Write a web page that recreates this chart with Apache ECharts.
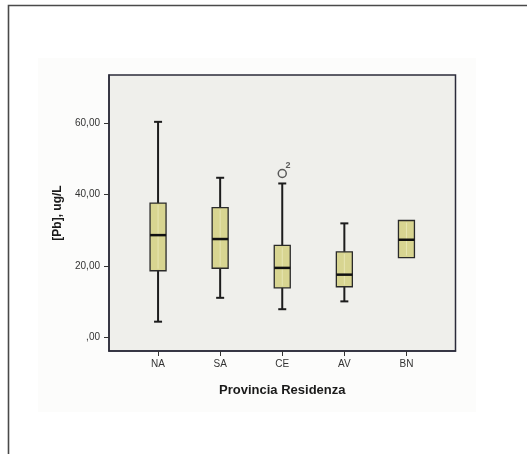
<!DOCTYPE html>
<html>
<head>
<meta charset="utf-8">
<script src="https://cdn.jsdelivr.net/npm/echarts@6/dist/echarts.min.js"></script>
<style>
  html, body { margin: 0; padding: 0; background: #ffffff; }
  #chart { width: 527px; height: 454px; }
</style>
</head>
<body>
<div id="chart"></div>
<script>
// Province codes on the horizontal axis
const provinces = ['NA', 'SA', 'CE', 'AV', 'BN'];
// Box statistics per province: lower whisker, Q1, median, Q3, upper whisker
const lowerWhisker = [4.3, 11.0, 7.8, 10.0, 22.3];
const quartile1    = [18.6, 19.3, 13.8, 14.1, 22.3];
const medians      = [28.6, 27.5, 19.4, 17.5, 27.3];
const quartile3    = [37.6, 36.3, 25.7, 23.9, 32.7];
const upperWhisker = [60.4, 44.7, 43.1, 31.9, 32.7];
// Outliers: province index, value, case label
const outlierProvince = [2];
const outlierValue = [45.9];
const outlierCase = ['2'];
// Y tick values and their labels
const yTicks = [0, 20, 40, 60];
const yTickLabels = [',00', '20,00', '40,00', '60,00'];

const boxData = provinces.map((p, i) => [i + 1, lowerWhisker[i], quartile1[i], medians[i], quartile3[i], upperWhisker[i]]);
const outlierData = outlierProvince.map((p, i) => ({ value: [p + 1, outlierValue[i]], caseId: outlierCase[i] }));

const FONT = '"Liberation Sans", Arial, sans-serif';

function renderBox(params, api) {
  const x = api.value(0);
  const pMin = api.coord([x, api.value(1)]);
  const pQ1 = api.coord([x, api.value(2)]);
  const pMed = api.coord([x, api.value(3)]);
  const pQ3 = api.coord([x, api.value(4)]);
  const pMax = api.coord([x, api.value(5)]);
  const half = 8, cap = 4;
  const cx = pMed[0];
  const children = [];
  const whiskerStyle = { stroke: '#1c1c1c', lineWidth: 2 };
  if (pMax[1] < pQ3[1] - 0.5) {
    children.push({ type: 'line', shape: { x1: cx, y1: pMax[1], x2: cx, y2: pQ3[1] }, style: whiskerStyle });
    children.push({ type: 'line', shape: { x1: cx - cap, y1: pMax[1], x2: cx + cap, y2: pMax[1] }, style: whiskerStyle });
  }
  if (pMin[1] > pQ1[1] + 0.5) {
    children.push({ type: 'line', shape: { x1: cx, y1: pQ1[1], x2: cx, y2: pMin[1] }, style: whiskerStyle });
    children.push({ type: 'line', shape: { x1: cx - cap, y1: pMin[1], x2: cx + cap, y2: pMin[1] }, style: whiskerStyle });
  }
  children.push({
    type: 'rect',
    shape: { x: cx - half, y: pQ3[1], width: half * 2, height: pQ1[1] - pQ3[1] },
    style: { fill: '#d8d591', stroke: '#2a2a2a', lineWidth: 1.3 }
  });
  // faint inner hatch of the fill
  children.push({
    type: 'line',
    shape: { x1: cx, y1: pQ3[1] + 2, x2: cx, y2: pQ1[1] - 2 },
    style: { stroke: 'rgba(255,255,230,0.4)', lineWidth: 1 }
  });
  children.push({
    type: 'line',
    shape: { x1: cx - half, y1: pMed[1], x2: cx + half, y2: pMed[1] },
    style: { stroke: '#111111', lineWidth: 2.5 }
  });
  return { type: 'group', children };
}

const chart = echarts.init(document.getElementById('chart'), null, { renderer: 'canvas' });
chart.setOption({
  animation: false,
  backgroundColor: '#ffffff',
  graphic: [
    { type: 'rect', silent: true, z: -10, shape: { x: 38, y: 58, width: 438, height: 354 }, style: { fill: '#fcfcfb' } },
    { type: 'polyline', silent: true, z: 100, shape: { points: [[8.5, 454], [8.5, 5.5], [527, 5.5]] }, style: { stroke: '#4a4a4a', lineWidth: 1.6, fill: null } }
  ],
  grid: {
    left: 109, top: 75, right: 71.5, bottom: 103,
    show: true, backgroundColor: '#efefeb', borderColor: '#2b2b3a', borderWidth: 1.5
  },
  xAxis: {
    type: 'value',
    min: 0.21, max: 5.79,
    splitLine: { show: false },
    axisLine: { show: true, onZero: false, lineStyle: { color: '#2b2b3a', width: 1.5 } },
    axisTick: { show: true, length: 5, customValues: [1, 2, 3, 4, 5], lineStyle: { color: '#333', width: 1 } },
    axisLabel: {
      customValues: [1, 2, 3, 4, 5],
      formatter: v => provinces[Math.round(v) - 1] || '',
      color: '#333', fontFamily: FONT, fontSize: 10, margin: 8
    },
    name: 'Provincia Residenza',
    nameLocation: 'middle',
    nameGap: 33,
    nameTextStyle: { fontFamily: FONT, fontSize: 13, fontWeight: 'bold', color: '#1a1a1a' }
  },
  yAxis: {
    type: 'value',
    min: -3.93, max: 73.55,
    splitLine: { show: false },
    axisLine: { show: true, onZero: false, lineStyle: { color: '#2b2b3a', width: 1.5 } },
    axisTick: { show: true, length: 5, customValues: yTicks, lineStyle: { color: '#333', width: 1 } },
    axisLabel: {
      customValues: yTicks,
      formatter: v => yTickLabels[yTicks.indexOf(Math.round(v))] || '',
      color: '#333', fontFamily: FONT, fontSize: 10, margin: 9
    },
    name: '[Pb], ug/L',
    nameLocation: 'middle',
    nameGap: 39,
    nameRotate: 90,
    nameTextStyle: { fontFamily: FONT, fontSize: 12, fontWeight: 'bold', color: '#1a1a1a' }
  },
  series: [
    {
      type: 'custom',
      renderItem: renderBox,
      data: boxData,
      encode: { x: 0, y: [1, 2, 3, 4, 5] },
      z: 5
    },
    {
      type: 'scatter',
      data: outlierData,
      symbol: 'circle',
      symbolSize: 8,
      itemStyle: { color: 'rgba(0,0,0,0)', borderColor: '#333', borderWidth: 1.5 },
      label: {
        show: true,
        formatter: p => p.data.caseId,
        position: [8, -8],
        fontFamily: FONT, fontSize: 9, fontWeight: 'bold', color: '#333'
      },
      z: 6
    }
  ]
});
</script>
</body>
</html>
